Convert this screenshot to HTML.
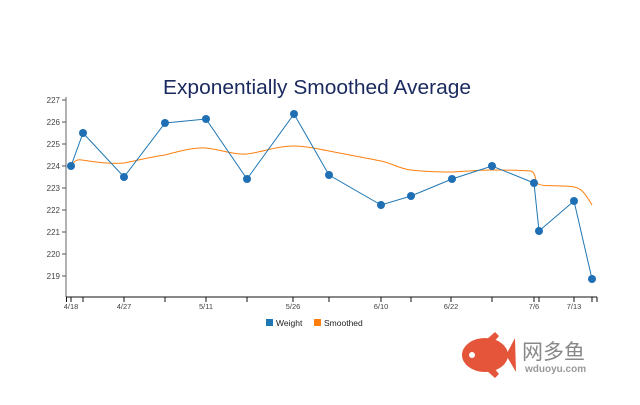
<!DOCTYPE html>
<html><head><meta charset="utf-8"><style>
body{margin:0;background:#fff;width:640px;height:400px;overflow:hidden}
text{font-family:"Liberation Sans",sans-serif}
</style></head><body>
<svg width="640" height="400" xmlns="http://www.w3.org/2000/svg">
<text x="163" y="94" textLength="308" lengthAdjust="spacingAndGlyphs" font-size="20" fill="#1a2a5e">Exponentially Smoothed Average</text>
<g stroke="#999" stroke-width="1.5"><line x1="66" y1="97" x2="66" y2="297"/></g>
<g stroke="#555" stroke-width="1">
<line x1="62" y1="100" x2="66" y2="100"/><line x1="62" y1="122" x2="66" y2="122"/><line x1="62" y1="144" x2="66" y2="144"/><line x1="62" y1="166" x2="66" y2="166"/><line x1="62" y1="188" x2="66" y2="188"/><line x1="62" y1="210" x2="66" y2="210"/><line x1="62" y1="232" x2="66" y2="232"/><line x1="62" y1="254" x2="66" y2="254"/><line x1="62" y1="276" x2="66" y2="276"/>
</g>
<g font-size="8" fill="#444" text-anchor="end">
<text x="60" y="103">227</text><text x="60" y="125">226</text><text x="60" y="147">225</text><text x="60" y="169">224</text><text x="60" y="191">223</text><text x="60" y="213">222</text><text x="60" y="235">221</text><text x="60" y="257">220</text><text x="60" y="279">219</text>
</g>
<line x1="66" y1="297" x2="597" y2="297" stroke="#111" stroke-width="1"/>
<g stroke="#111" stroke-width="1">
<line x1="66.5" y1="297" x2="66.5" y2="302"/><line x1="71" y1="297" x2="71" y2="302"/><line x1="83" y1="297" x2="83" y2="302"/><line x1="124" y1="297" x2="124" y2="302"/><line x1="165" y1="297" x2="165" y2="302"/><line x1="206" y1="297" x2="206" y2="302"/><line x1="247" y1="297" x2="247" y2="302"/><line x1="293" y1="297" x2="293" y2="302"/><line x1="329" y1="297" x2="329" y2="302"/><line x1="381" y1="297" x2="381" y2="302"/><line x1="411" y1="297" x2="411" y2="302"/><line x1="451" y1="297" x2="451" y2="302"/><line x1="492" y1="297" x2="492" y2="302"/><line x1="534" y1="297" x2="534" y2="302"/><line x1="539" y1="297" x2="539" y2="302"/><line x1="574" y1="297" x2="574" y2="302"/><line x1="592" y1="297" x2="592" y2="302"/><line x1="597" y1="297" x2="597" y2="302"/>
</g>
<g font-size="7.5" fill="#444" text-anchor="middle">
<text x="71" y="309">4/18</text><text x="124" y="309">4/27</text><text x="206" y="309">5/11</text><text x="293" y="309">5/26</text><text x="381" y="309">6/10</text><text x="451" y="309">6/22</text><text x="534" y="309">7/6</text><text x="574" y="309">7/13</text>
</g>
<path d="M71,166 C74,161 77,159 82,160 C100,163 112,164 124,163 C140,160 155,156 165,155 C180,151 195,147 206,148 C222,150 235,155 247,154 C262,152 278,146 294,146 C306,146 318,149 329,151 C350,155 366,158 381,161 C394,164 400,169 411,170 C428,172 440,172 452,172 C470,171 480,170 492,170 C510,170 520,170 531,171 C534,172 534,174 535,176 C536,183 537,185 545,185.5 C560,186 570,186 574,187 C580,188 584,191 592,205" fill="none" stroke="#ff7f0e" stroke-width="1"/>
<polyline points="71,166 83,133 124,177 165,123 206,119 247,179 294,114 329,175 381,205 411,196 452,179 492,166 534,183 539,231 574,201 592,279" fill="none" stroke="#1f77b4" stroke-width="1"/>
<g fill="#1f6fb4">
<circle cx="71" cy="166" r="4"/><circle cx="83" cy="133" r="4"/><circle cx="124" cy="177" r="4"/><circle cx="165" cy="123" r="4"/><circle cx="206" cy="119" r="4"/><circle cx="247" cy="179" r="4"/><circle cx="294" cy="114" r="4"/><circle cx="329" cy="175" r="4"/><circle cx="381" cy="205" r="4"/><circle cx="411" cy="196" r="4"/><circle cx="452" cy="179" r="4"/><circle cx="492" cy="166" r="4"/><circle cx="534" cy="183" r="4"/><circle cx="539" cy="231" r="4"/><circle cx="574" cy="201" r="4"/><circle cx="592" cy="279" r="4"/>
</g>
<rect x="266" y="319" width="7" height="7" fill="#1f77b4"/>
<text x="276" y="326" font-size="8.5" fill="#222">Weight</text>
<rect x="314" y="319" width="7" height="7" fill="#ff7f0e"/>
<text x="324" y="326" font-size="8.5" fill="#222">Smoothed</text>
<g fill="#e4553a">
<ellipse cx="485" cy="355" rx="23" ry="17"/>
<polygon points="486,340 495,332 499,336 494,342"/>
<polygon points="486,370 495,378 499,374 494,368"/>
<polygon points="506,355 515,338 516,372"/>
</g>
<circle cx="472" cy="355" r="3" fill="#fff"/>
<text x="522" y="359" font-size="21" fill="#888" style="font-family:'Liberation Sans','Noto Sans CJK SC',sans-serif">网多鱼</text>
<text x="525" y="372" font-size="10" font-weight="bold" fill="#999">wduoyu.com</text>
</svg>
</body></html>
